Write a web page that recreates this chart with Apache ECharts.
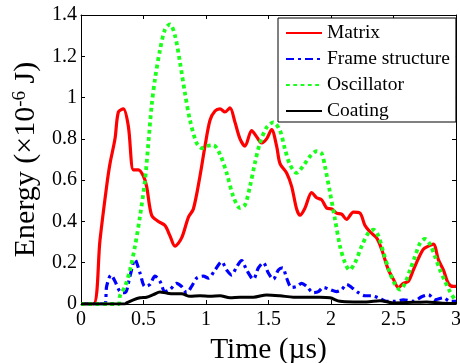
<!DOCTYPE html>
<html><head><meta charset="utf-8">
<script src="https://cdn.jsdelivr.net/npm/echarts@6/dist/echarts.min.js"></script>
<style>html,body{margin:0;padding:0;background:#fff}#c{width:460px;height:363px}</style>
</head><body><div id="c"></div>
<script>
const xTicks = [0, 0.5, 1, 1.5, 2, 2.5, 3];
const yTicks = [0, 0.2, 0.4, 0.6, 0.8, 1, 1.2, 1.4];
const seriesNames = ['Matrix', 'Frame structure', 'Oscillator', 'Coating'];

const matrixT = [0,0.1,0.152,0.205,0.232,0.272,0.299,0.339,0.379,0.419,0.459,0.499,0.525,0.565,0.619,0.672,0.712,0.752,0.805,0.859,0.899,0.952,0.992,1.032,1.072,1.112,1.152,1.192,1.232,1.272,1.312,1.365,1.405,1.445,1.485,1.525,1.565,1.592,1.645,1.685,1.725,1.752,1.792,1.845,1.885,1.925,1.965,2.005,2.045,2.085,2.125,2.179,2.232,2.272,2.312,2.365,2.405,2.459,2.499,2.539,2.579,2.619,2.659,2.699,2.739,2.779,2.819,2.859,2.899,2.939,2.979,3.0];
const matrixE = [0,0,0.31,0.57,0.68,0.80,0.93,0.945,0.86,0.65,0.65,0.62,0.57,0.43,0.40,0.38,0.33,0.28,0.32,0.42,0.46,0.62,0.765,0.89,0.935,0.945,0.93,0.95,0.88,0.80,0.765,0.84,0.81,0.78,0.80,0.845,0.765,0.68,0.635,0.57,0.46,0.43,0.465,0.54,0.515,0.505,0.465,0.46,0.44,0.435,0.41,0.445,0.44,0.38,0.35,0.32,0.265,0.165,0.12,0.08,0.10,0.11,0.165,0.22,0.265,0.28,0.29,0.215,0.165,0.10,0.085,0.085];

const frameT = [0,0.19,0.205,0.24,0.272,0.312,0.352,0.392,0.432,0.472,0.512,0.552,0.592,0.632,0.672,0.712,0.765,0.805,0.845,0.885,0.925,0.979,1.019,1.072,1.125,1.165,1.205,1.245,1.285,1.325,1.379,1.419,1.459,1.499,1.539,1.579,1.613,1.645,1.685,1.725,1.765,1.805,1.859,1.899,1.939,1.992,2.045,2.085,2.125,2.165,2.219,2.272,2.325,2.379,2.445,2.512,2.579,2.659,2.725,2.779,2.832,2.899,2.952,3.0];
const frameE = [0,0,0.085,0.14,0.11,0.06,0.055,0.135,0.215,0.15,0.085,0.095,0.135,0.11,0.06,0.07,0.10,0.085,0.055,0.085,0.125,0.135,0.125,0.165,0.205,0.165,0.14,0.18,0.21,0.165,0.12,0.175,0.20,0.15,0.12,0.165,0.175,0.125,0.08,0.085,0.10,0.085,0.055,0.06,0.08,0.07,0.06,0.07,0.095,0.08,0.055,0.04,0.04,0.03,0.013,0.013,0.02,0.013,0.035,0.045,0.02,0.03,0.013,0.013];

const oscT = [0,0.3,0.312,0.352,0.392,0.432,0.472,0.512,0.539,0.565,0.592,0.632,0.672,0.712,0.752,0.792,0.832,0.872,0.925,0.965,1.005,1.059,1.112,1.165,1.219,1.272,1.312,1.352,1.392,1.432,1.485,1.539,1.592,1.632,1.672,1.725,1.779,1.832,1.885,1.925,1.952,1.992,2.032,2.072,2.112,2.147,2.192,2.245,2.299,2.339,2.379,2.419,2.472,2.512,2.552,2.592,2.632,2.672,2.712,2.752,2.792,2.832,2.872,2.912,2.952,2.992];
const oscE = [0,0,0.04,0.085,0.165,0.28,0.425,0.60,0.78,0.96,1.09,1.23,1.33,1.355,1.30,1.17,1.02,0.89,0.78,0.755,0.765,0.77,0.725,0.635,0.52,0.465,0.48,0.57,0.685,0.78,0.855,0.88,0.84,0.75,0.675,0.635,0.67,0.715,0.74,0.73,0.665,0.54,0.41,0.28,0.20,0.165,0.20,0.28,0.345,0.36,0.33,0.25,0.15,0.095,0.07,0.10,0.165,0.23,0.295,0.315,0.29,0.23,0.165,0.11,0.06,0.02];

const coatT = [0,0.35,0.365,0.419,0.472,0.525,0.579,0.632,0.685,0.739,0.805,0.872,0.952,1.032,1.112,1.192,1.272,1.379,1.485,1.592,1.699,1.805,1.912,1.992,2.072,2.179,2.285,2.392,2.499,2.659,2.765,2.872,3.0];
const coatE = [0,0,0.005,0.02,0.03,0.033,0.045,0.058,0.053,0.05,0.05,0.037,0.04,0.037,0.04,0.03,0.033,0.033,0.044,0.04,0.033,0.033,0.033,0.03,0.013,0.01,0.01,0.016,0.005,0.008,0.01,0.005,0.002];

const zip = (t, e) => t.map((x, i) => [x, e[i]]);
const FONT = 'Liberation Serif';

const chart = echarts.init(document.getElementById('c'), null, {renderer: 'canvas'});
const baseX = {type: 'value', min: xTicks[0], max: xTicks[xTicks.length-1], interval: 0.5,
  axisLine: {show: true, onZero: false, lineStyle: {color: '#000', width: 1}},
  axisTick: {show: true, inside: true, length: 4, lineStyle: {color: '#000'}},
  splitLine: {show: false}};
const baseY = {type: 'value', min: yTicks[0], max: yTicks[yTicks.length-1], interval: 0.2,
  axisLine: {show: true, onZero: false, lineStyle: {color: '#000', width: 1}},
  axisTick: {show: true, inside: true, length: 4, lineStyle: {color: '#000'}},
  splitLine: {show: false}};

chart.setOption({
  animation: false,
  backgroundColor: '#fff',
  grid: {left: 81, right: 4, top: 15, bottom: 59, containLabel: false, outerBoundsMode: 'none'},
  legend: {
    orient: 'vertical', left: 278, top: 18,
    data: seriesNames,
    backgroundColor: '#fff', borderColor: '#000', borderWidth: 1, borderRadius: 0,
    padding: [5, 6, 1, 7], itemGap: 6, itemWidth: 36, itemHeight: 14,
    itemStyle: {opacity: 0},
    textStyle: {fontFamily: FONT, fontSize: 19.5, color: '#000', lineHeight: 20}
  },
  xAxis: [
    Object.assign({}, baseX, {position: 'bottom',
      axisLabel: {show: true, margin: 6, fontFamily: FONT, fontSize: 20, color: '#000',
        formatter: v => String(v)},
      name: 'Time (\u00b5s)', nameLocation: 'middle', nameGap: 24,
      nameTextStyle: {fontFamily: FONT, fontSize: 29.5, color: '#000'}}),
    Object.assign({}, baseX, {position: 'top', axisLabel: {show: false}})
  ],
  yAxis: [
    Object.assign({}, baseY, {position: 'left',
      axisLabel: {show: true, margin: 4, fontFamily: FONT, fontSize: 20, color: '#000',
        formatter: v => String(Math.round(v*10)/10)},
      name: 'Energy (\u00d710{sup|-6} J)', nameLocation: 'middle', nameGap: 38, nameRotate: 90,
      nameTextStyle: {fontFamily: FONT, fontSize: 30, color: '#000',
        rich: {sup: {fontFamily: FONT, fontSize: 19, color: '#000', verticalAlign: 'top', padding: [0,0,13,0]}}}}),
    Object.assign({}, baseY, {position: 'right', axisLabel: {show: false}})
  ],
  series: [
    {name: seriesNames[0], type: 'line', data: zip(matrixT, matrixE), symbol: 'none', smooth: 0.3,
      lineStyle: {color: '#ff0000', width: 3.2}, itemStyle: {color: '#ff0000'}},
    {name: seriesNames[1], type: 'line', data: zip(frameT, frameE), symbol: 'none', smooth: 0.3,
      lineStyle: {color: '#0000ff', width: 3.2, type: [8, 4, 3, 4]}, itemStyle: {color: '#0000ff'}},
    {name: seriesNames[2], type: 'line', data: zip(oscT, oscE), symbol: 'none', smooth: 0.3,
      lineStyle: {color: '#1aff1a', width: 3.8, type: [3.8, 3.5], cap: 'butt'}, itemStyle: {color: '#1aff1a'}},
    {name: seriesNames[3], type: 'line', data: zip(coatT, coatE), symbol: 'none', smooth: 0.3,
      lineStyle: {color: '#000', width: 3}, itemStyle: {color: '#000'}}
  ]
});
</script></body></html>
